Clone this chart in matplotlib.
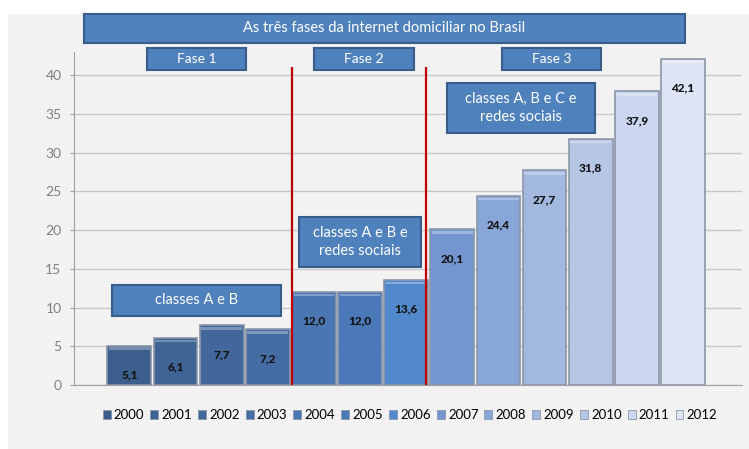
import numpy as np
import matplotlib.pyplot as plt
from matplotlib.patches import Rectangle

years = ["2000", "2001", "2002", "2003", "2004", "2005", "2006",
         "2007", "2008", "2009", "2010", "2011", "2012"]
values = [5.1, 6.1, 7.7, 7.2, 12.0, 12.0, 13.6, 20.1, 24.4, 27.7, 31.8, 37.9, 42.1]
colors = ["#3c5f8e", "#3f6394", "#42679b", "#456ca3", "#4a76b4", "#4b79b8", "#5289cc",
          "#7496d0", "#88a6d7", "#a2b8df", "#b6c7e6", "#cad7ee", "#dde5f4"]
yticks = [0, 5, 10, 15, 20, 25, 30, 35, 40]

title = "As três fases da internet domiciliar no Brasil"
phases = ["Fase 1", "Fase 2", "Fase 3"]
notes = ["classes A e B", "classes A e B e\nredes sociais", "classes A, B e C e\nredes sociais"]

plt.rcParams['font.family'] = ['Lato', 'DejaVu Sans']

W, H = 749, 449
fig = plt.figure(figsize=(W / 100, H / 100), dpi=100, facecolor="white")
bg = "#f2f2f2"
fig.add_artist(Rectangle((8 / W, 0), 1, 1 - 14 / H, transform=fig.transFigure,
                         facecolor=bg, edgecolor="none", zorder=-10))

ax = fig.add_axes([74 / W, 1 - 385 / H, (742 - 74) / W, (385 - 52) / H])
ax.set_facecolor(bg)

x = np.arange(len(years))
ax.bar(x, values, width=0.95, color=colors, edgecolor="#8a96a8",
       linewidth=1.2, zorder=3)
# light bevel along the top of each bar
for xi, v in zip(x, values):
    ax.bar(xi, 0.3, bottom=v - 0.55, width=0.88, color="white", alpha=0.3,
           edgecolor="none", zorder=4)

for xi, v in zip(x, values):
    ax.annotate(f"{v:.1f}".replace(".", ","), (xi, v), xytext=(0, -21),
                textcoords="offset points", ha="center", va="center",
                fontsize=8.5, fontweight="black", color="#111111", zorder=5)

for xb in [3.53, 6.42]:
    ax.vlines(xb, 0, 41, color="#c00000", linewidth=1.6, zorder=6)

ax.set_xlim(-1.2, 13.28)
ax.set_ylim(0, 43)
ax.set_yticks(yticks)
ax.set_xticks([])
ax.grid(axis="y", color="#c8c8c8", linewidth=1, zorder=0)
for s in ["top", "right"]:
    ax.spines[s].set_visible(False)
for s in ["left", "bottom"]:
    ax.spines[s].set_color("#a0a0a0")
ax.tick_params(axis="y", length=3, pad=6, colors="#a0a0a0", labelcolor="#7f7f7f",
               labelsize=10)

# legend
handles = [Rectangle((0, 0), 1, 1, facecolor=c, edgecolor="#8a96a8", linewidth=0.6)
           for c in colors]
fig.legend(handles, years, loc="center", bbox_to_anchor=(410 / W, 1 - 415 / H),
           ncol=13, frameon=False, fontsize=9.5, handlelength=0.6, handleheight=0.6,
           handletextpad=0.25, columnspacing=0.45)


def box(x0, y0, x1, y1, text, size):
    fig.add_artist(Rectangle((x0 / W, 1 - y1 / H), (x1 - x0) / W, (y1 - y0) / H,
                             transform=fig.transFigure, facecolor="#4f81bd",
                             edgecolor="#385d8a", linewidth=1.5, zorder=20))
    fig.text((x0 + x1) / 2 / W, 1 - (y0 + y1) / 2 / H, text, ha="center", va="center",
             color="white", fontsize=size, linespacing=1.4, zorder=21)


box(84, 14, 685, 43, title, 10.5)
box(147, 48, 246, 70, phases[0], 10)
box(314, 48, 414, 70, phases[1], 10)
box(502, 48, 601, 70, phases[2], 10)
box(112, 285, 281, 316, notes[0], 10.5)
box(299, 217, 421, 267, notes[1], 10.5)
box(447, 83, 595, 133, notes[2], 10.5)

fig.savefig("out.png", dpi=100, facecolor=fig.get_facecolor())
